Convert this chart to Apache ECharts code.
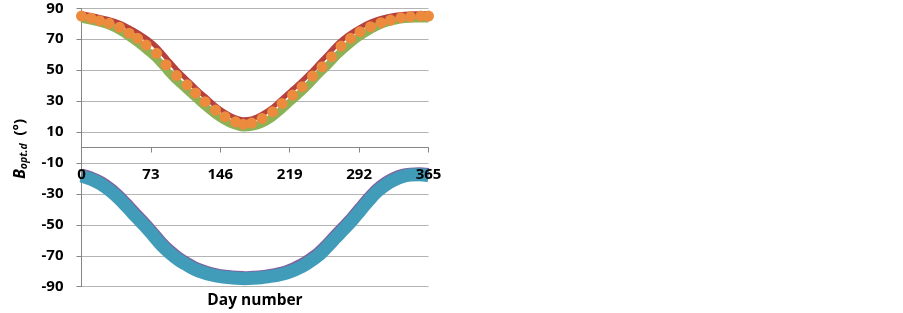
<!DOCTYPE html>
<html><head><meta charset="utf-8">
<script src="https://cdn.jsdelivr.net/npm/echarts@6/dist/echarts.min.js"></script>
<style>html,body{margin:0;padding:0;background:#fff}#c{width:903px;height:313px}</style>
</head><body><div id="c"></div>
<script>
// ---- data ----
const xTicks = [0, 73, 146, 219, 292, 365];
const yTicks = [-90, -70, -50, -30, -10, 10, 30, 50, 70, 90];

const orangeDays = [0,10,19,29,40,50,59,68,79,89,100,111,120,130,141,151,162,170,179,190,201,211,222,232,243,253,263,273,283,293,304,315,325,336,346,357,365];
const orangeVals = [85,83.6,82,80.3,77.7,73.9,70.6,66.3,60.9,53.5,46.5,40.5,35.2,29.6,24.2,19.9,16.6,15.1,15.8,18.8,23.1,28.5,33.9,39.3,46.2,52.2,58.7,65.6,70.6,74.9,78.1,80.7,82.4,83.9,84.6,85,85];

const lineDays = [0,10,20,30,40,50,60,70,80,90,100,110,120,130,140,150,160,170,180,190,200,210,220,230,240,250,260,270,280,290,300,310,320,330,340,350,365];
const redVals = [86.5,85.3,84,82.5,80.5,77.5,74,69.8,64.5,57.5,50.5,44.5,38.5,33,27.5,23,19.7,18,18.7,21.5,25.5,31,36.5,42,48,54.5,61,67.5,72.5,76.5,80,82.5,84.3,85.5,86.2,86.5,86.5];
const greenVals = [83.4,82,80.5,78.5,75.5,71.5,67,62,56.5,49.5,43,37.5,32,26.5,21.5,17.5,14.5,13,13.5,15.5,19,24,29.5,35,41,47.5,53.5,60,65.5,70.5,74.5,78,80.5,82,83,83.4,83.4];

const blueDays = [0,10,20,31,40,49,58,67,76,84,93,102,111,119,128,137,146,154,163,172,180,189,197,206,215,223,232,241,250,258,267,276,285,294,303,311,320,329,338,346,355,365];
const blueVals = [-18.5,-20.6,-23.6,-28.4,-33.4,-39.2,-45.2,-51,-57.3,-63,-68.3,-72.7,-76,-78.7,-80.8,-82.4,-83.5,-84.1,-84.6,-84.8,-84.6,-84.2,-83.5,-82.6,-81.3,-79.5,-77,-73.5,-69.4,-64.5,-58.6,-52.8,-46.8,-40.2,-33.8,-28.5,-24.1,-20.9,-18.7,-17.8,-17.6,-18.2];
const purpleVals = [-17.8,-19.8,-22.6,-27.2,-32.2,-38,-44,-49.8,-56.1,-61.8,-67.2,-71.6,-75.1,-77.8,-80,-81.6,-82.8,-83.4,-83.9,-84.2,-83.9,-83.5,-82.8,-81.8,-80.4,-78.5,-75.8,-72.3,-68.2,-63.3,-57.4,-51.6,-45.6,-39,-32.6,-27.4,-23.1,-20,-18,-17.2,-17,-17.5];

function pairs(xs, ys){ return xs.map((x,i)=>[x, ys[i]]); }

const FONT = 'Open Sans';
const GRID = {left: 81.5, right: 474.5, top: 8.3, bottom: 26.3};
const plotH = 313 - GRID.top - GRID.bottom;
// distance from bottom edge of the plot to the y=0 line (axis crosses at zero)
const zeroOffset = -plotH * (0 - yTicks[0]) / (yTicks[yTicks.length-1] - yTicks[0]);

const chart = echarts.init(document.getElementById('c'), null, {renderer:'canvas'});
chart.setOption({
  animation: false,
  backgroundColor: '#fff',
  grid: Object.assign({containLabel: false, outerBoundsMode: 'none'}, GRID),
  xAxis: {
    type: 'value', min: xTicks[0], max: xTicks[xTicks.length-1], interval: 73,
    position: 'bottom', offset: zeroOffset, z: 10,
    axisLine: {show: true, onZero: false, lineStyle: {color: '#868686', width: 1}},
    axisTick: {show: true, length: 5, lineStyle: {color: '#868686'}},
    axisLabel: {margin: 20, fontFamily: FONT, fontWeight: 'bold', fontSize: 15, color: '#000'},
    splitLine: {show: false}
  },
  yAxis: {
    type: 'value', min: yTicks[0], max: yTicks[yTicks.length-1], interval: 20,
    axisLine: {show: true, onZero: false, lineStyle: {color: '#868686', width: 1}},
    axisTick: {show: true, length: 5, lineStyle: {color: '#868686'}},
    axisLabel: {margin: 18, fontFamily: FONT, fontWeight: 'bold', fontSize: 15, color: '#000'},
    splitLine: {show: true, lineStyle: {color: '#B4B4B4', width: 1}}
  },
  graphic: [
    {type: 'text', x: 20, y: 149, rotation: Math.PI/2,
     style: {text: '{b|B}{s|opt.d}{n|  (°)}', align: 'center', verticalAlign: 'middle',
       rich: {
         b: {fontFamily: FONT, fontWeight: 'bold', fontStyle: 'italic', fontSize: 16, lineHeight: 19, fill: '#000'},
         s: {fontFamily: FONT, fontWeight: 'bold', fontStyle: 'italic', fontSize: 10.5, lineHeight: 12, verticalAlign: 'bottom', fill: '#000'},
         n: {fontFamily: FONT, fontWeight: 'bold', fontSize: 15, lineHeight: 19, fill: '#000'}
       }}},
    {type: 'text', x: 255, y: 301,
     style: {text: 'Day number', align: 'center', verticalAlign: 'middle', fontFamily: FONT, fontWeight: 'bold', fontSize: 15.5, fill: '#000'}}
  ],
  series: [
    {type: 'line', data: pairs(lineDays, greenVals), smooth: 0.3, showSymbol: false, lineStyle: {color: '#8DB255', width: 8}, z: 2},
    {type: 'line', data: pairs(lineDays, redVals), smooth: 0.3, showSymbol: false, lineStyle: {color: '#B5413E', width: 5}, z: 3},
    {type: 'scatter', data: pairs(orangeDays, orangeVals), symbol: 'circle', symbolSize: 11, itemStyle: {color: '#EC8A3D', opacity: 1}, z: 4},
    {type: 'line', data: pairs(blueDays, purpleVals), smooth: 0.3, showSymbol: false, lineStyle: {color: '#7F62A0', width: 13}, z: 2},
    {type: 'line', data: pairs(blueDays, blueVals), smooth: 0.3, showSymbol: false, lineStyle: {color: '#409CB8', width: 13}, z: 3}
  ]
});
</script></body></html>
